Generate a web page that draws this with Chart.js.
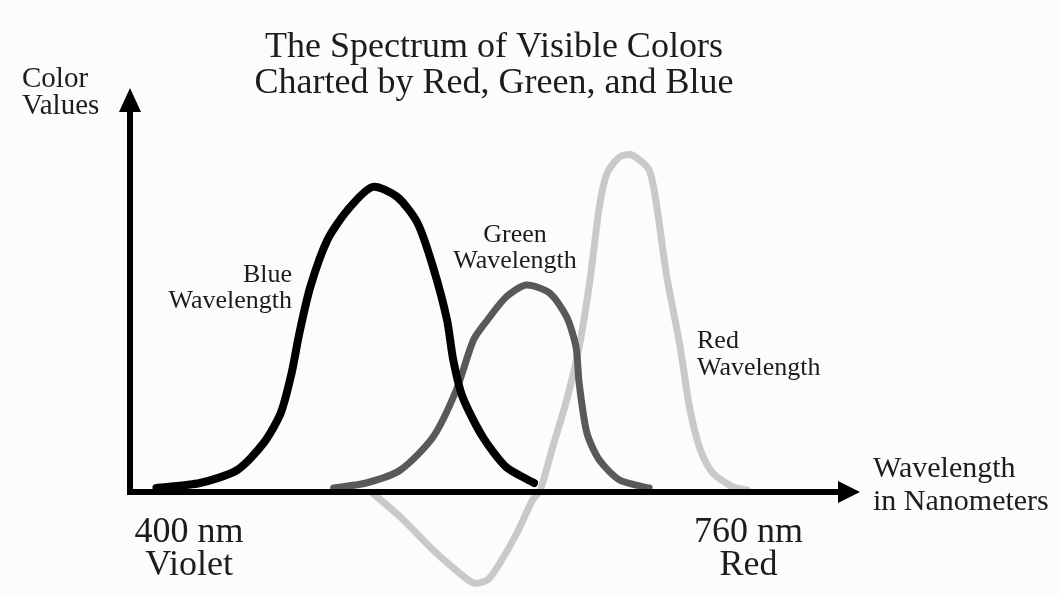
<!DOCTYPE html>
<html><head><meta charset="utf-8">
<script src="https://cdn.jsdelivr.net/npm/chart.js@4/dist/chart.umd.min.js"></script>
<style>html,body{margin:0;padding:0;background:#fcfcfc}#wrap{width:1058px;height:595px}</style>
</head><body><div id="wrap"><canvas id="c" width="1058" height="595"></canvas></div>
<script>
// Wavelength (nm) and colour-value readings
const blueX = [379, 407, 431, 448, 459, 466, 471, 478, 489, 502, 518, 534, 547, 557, 566, 570, 576, 589, 604, 622];
const blueY = [4, 9, 22, 49, 79, 119, 159, 205, 252, 282, 305, 295, 269, 225, 172, 132, 95, 55, 25, 9];
const greenX = [493, 514, 536, 557, 572, 583, 592, 604, 617, 632, 643, 649, 651, 656, 664, 677, 696];
const greenY = [4, 9, 22, 55, 102, 152, 172, 195, 207, 199, 175, 145, 109, 59, 32, 12, 4];
const redX = [518, 536, 557, 574, 583, 592, 600, 611, 621, 626, 634, 643, 651, 658, 664, 669, 677, 685, 696, 701, 707, 716, 722, 729, 737, 750, 759];
const redY = [-1, -25, -58, -81, -91, -88, -71, -41, -8, 2, 45, 92, 145, 212, 285, 319, 335, 337, 322, 285, 219, 145, 85, 42, 19, 5, 2];
const tickValues = [400, 760];
const tickLabels = [["400 nm", "Violet"], ["760 nm", "Red"]];
const titleLines = ["The Spectrum of Visible Colors", "Charted by Red, Green, and Blue"];
const yAxisTitle = ["Color", "Values"];
const xAxisTitle = ["Wavelength", "in Nanometers"];
const seriesLabels = [["Blue", "Wavelength"], ["Green", "Wavelength"], ["Red", "Wavelength"]];

const pts = (xs, ys) => xs.map((x, i) => ({x, y: ys[i]}));
const SERIF = '"Liberation Serif", "DejaVu Serif", serif';

const overlay = {
  id: 'overlay',
  beforeDatasetsDraw(chart) {
    const {ctx, scales:{x, y}} = chart;
    const x0 = x.left, y0 = y.getPixelForValue(0);
    ctx.save();
    ctx.fillStyle = '#000'; ctx.strokeStyle = '#000'; ctx.lineWidth = 6; ctx.lineCap = 'butt';
    ctx.beginPath(); ctx.moveTo(x0, y0 + 3); ctx.lineTo(x0, y.top + 14); ctx.stroke();
    ctx.beginPath(); ctx.moveTo(x0, y.top - 4); ctx.lineTo(x0 - 11, y.top + 20); ctx.lineTo(x0 + 11, y.top + 20); ctx.closePath(); ctx.fill();
    ctx.restore();
  },
  afterDatasetsDraw(chart) {
    const {ctx, scales:{x, y}} = chart;
    const x0 = x.left, y0 = y.getPixelForValue(0);
    ctx.save();
    ctx.fillStyle = '#000'; ctx.strokeStyle = '#000'; ctx.lineWidth = 6;
    ctx.beginPath(); ctx.moveTo(x0 - 3, y0); ctx.lineTo(x.right, y0); ctx.stroke();
    ctx.beginPath(); ctx.moveTo(x.right + 12, y0); ctx.lineTo(x.right - 10, y0 - 11); ctx.lineTo(x.right - 10, y0 + 11); ctx.closePath(); ctx.fill();

    ctx.fillStyle = '#1c1c1c';
    ctx.textBaseline = 'alphabetic';
    // title
    ctx.font = '36px ' + SERIF; ctx.textAlign = 'center';
    ctx.fillText(titleLines[0], 494, 57);
    ctx.fillText(titleLines[1], 494, 93);
    // y axis title
    ctx.font = '29px ' + SERIF; ctx.textAlign = 'left';
    ctx.fillText(yAxisTitle[0], 22, 87);
    ctx.fillText(yAxisTitle[1], 22, 114);
    // x axis title
    ctx.font = '30px ' + SERIF;
    ctx.fillText(xAxisTitle[0], 873, 477);
    ctx.fillText(xAxisTitle[1], 873, 510);
    // ticks
    ctx.font = '36px ' + SERIF; ctx.textAlign = 'center';
    tickValues.forEach((v, i) => {
      const px = x.getPixelForValue(v);
      ctx.fillText(tickLabels[i][0], px, 542);
      ctx.fillText(tickLabels[i][1], px, 575);
    });
    // series labels
    ctx.font = '26px ' + SERIF;
    ctx.textAlign = 'right';
    ctx.fillText(seriesLabels[0][0], 292, 282);
    ctx.fillText(seriesLabels[0][1], 292, 308);
    ctx.textAlign = 'center';
    ctx.fillText(seriesLabels[1][0], 515, 242);
    ctx.fillText(seriesLabels[1][1], 515, 268);
    ctx.textAlign = 'left';
    ctx.fillText(seriesLabels[2][0], 697, 348);
    ctx.fillText(seriesLabels[2][1], 697, 375);
    ctx.restore();
  }
};

new Chart(document.getElementById('c'), {
  type: 'line',
  data: {
    datasets: [
      {label: 'Red', data: pts(redX, redY), borderColor: '#c9c9c9', borderWidth: 7, order: 3},
      {label: 'Green', data: pts(greenX, greenY), borderColor: '#595959', borderWidth: 7, order: 2},
      {label: 'Blue', data: pts(blueX, blueY), borderColor: '#000000', borderWidth: 8, order: 1}
    ]
  },
  options: {
    responsive: false,
    animation: false,
    layout: {padding: {left: 130, right: 210, top: 92, bottom: 3}},
    elements: {
      point: {radius: 0},
      line: {tension: 0.25, borderJoinStyle: 'round', borderCapStyle: 'round', fill: false}
    },
    plugins: {legend: {display: false}, tooltip: {enabled: false}, title: {display: false}},
    scales: {
      x: {type: 'linear', min: 362, max: 824, display: false},
      y: {type: 'linear', min: -100, max: 400, display: false}
    }
  },
  plugins: [overlay]
});
</script>
</body></html>
